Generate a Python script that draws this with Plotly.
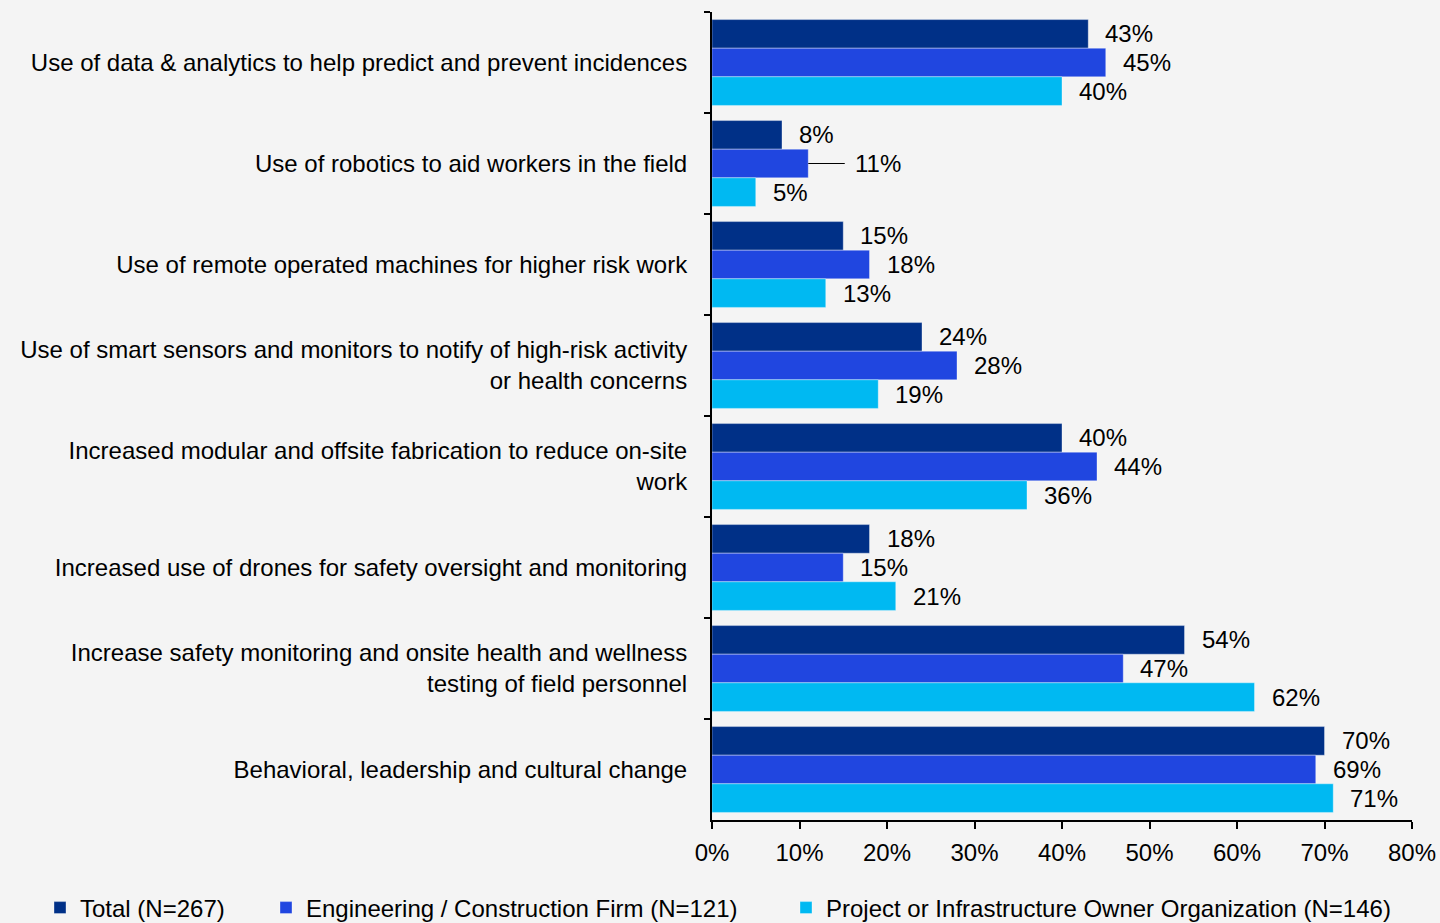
import plotly.graph_objects as go

categories = [
    "Use of data & analytics to help predict and prevent incidences",
    "Use of robotics to aid workers in the field",
    "Use of remote operated machines for higher risk work",
    "Use of smart sensors and monitors to notify of high-risk activity<br>or health concerns",
    "Increased modular and offsite fabrication to reduce on-site<br>work",
    "Increased use of drones for safety oversight and monitoring",
    "Increase safety monitoring and onsite health and wellness<br>testing of field personnel",
    "Behavioral, leadership and cultural change",
]
series_names = [
    "Total (N=267)",
    "Engineering / Construction Firm (N=121)",
    "Project or Infrastructure Owner Organization (N=146)",
]
total = [0.43, 0.08, 0.15, 0.24, 0.40, 0.18, 0.54, 0.70]
engineering = [0.45, 0.11, 0.18, 0.28, 0.44, 0.15, 0.47, 0.69]
owner = [0.40, 0.05, 0.13, 0.19, 0.36, 0.21, 0.62, 0.71]
x_ticks = [0, 0.1, 0.2, 0.3, 0.4, 0.5, 0.6, 0.7, 0.8]

colors = ["#003087", "#2046e0", "#00b9f2"]
FONT = "Liberation Sans, Arial, sans-serif"
FS = 24

# geometry (pixels)
ML, MR, MT, MB = 712, 28, 12, 103
W, H = 1440, 923
plot_w = W - ML - MR
plot_h = H - MT - MB

fig = go.Figure()
all_values = [total, engineering, owner]
legend_ids = ["legend", "legend2", "legend3"]
for name, vals, col, lg in zip(series_names, all_values, colors, legend_ids):
    fig.add_trace(go.Bar(
        y=categories, x=vals, name=name, orientation="h", legend=lg,
        marker=dict(color=col, line=dict(color="rgba(255,255,255,0.35)", width=1)),
    ))

cat_px = plot_h / len(categories)
bargap = 0.15
bar_px = cat_px * (1 - bargap) / 3
shifts = [bar_px, 0, -bar_px]

# labels that need a leader line: (series index, category index)
leader = {(1, 1)}

annotations = []
for si, vals in enumerate(all_values):
    for ci, v in enumerate(vals):
        txt = f"{round(v*100)}%"
        if (si, ci) in leader:
            annotations.append(dict(
                x=v, y=categories[ci], xref="x", yref="y", text=txt,
                showarrow=True, arrowhead=0, arrowwidth=1, arrowcolor="black",
                ax=70, ay=0, axref="pixel", ayref="pixel", standoff=0, startstandoff=9,
                yshift=shifts[si], font=dict(family=FONT, size=FS, color="black"),
            ))
        else:
            annotations.append(dict(
                x=v, y=categories[ci], xref="x", yref="y", text=txt,
                showarrow=False, xanchor="left", yanchor="middle",
                xshift=15, yshift=shifts[si],
                font=dict(family=FONT, size=FS, color="black"),
            ))

legend_y = -(908 - (MT + plot_h)) / plot_h
legend_left_px = [40, 266, 786]
legends = {}
for lg, lx in zip(legend_ids, legend_left_px):
    legends[lg] = dict(
        orientation="h", x=(lx - ML) / plot_w, xanchor="left",
        y=legend_y, yanchor="middle",
        font=dict(family=FONT, size=FS, color="black"),
        itemwidth=30, bgcolor="rgba(0,0,0,0)",
    )

fig.update_layout(
    width=W, height=H,
    barmode="group", bargap=bargap, bargroupgap=0,
    paper_bgcolor="#f4f4f4", plot_bgcolor="#f4f4f4",
    margin=dict(l=ML, r=MR, t=MT, b=MB, autoexpand=False),
    font=dict(family=FONT, size=FS, color="black"),
    annotations=annotations,
    showlegend=True,
    **legends,
)
fig.update_xaxes(
    range=[0, 0.8], tickvals=x_ticks, tickformat=".0%",
    showgrid=False, zeroline=False,
    showline=True, linecolor="black", linewidth=2,
    ticks="outside", ticklen=7, tickwidth=2, tickcolor="black",
    ticklabelstandoff=3,
    tickfont=dict(family=FONT, size=FS, color="black"),
)
fig.update_yaxes(
    range=[len(categories) - 0.5, -0.5], type="category",
    showgrid=False, zeroline=False,
    showline=True, linecolor="black", linewidth=2,
    ticks="outside", ticklen=6, tickwidth=2, tickcolor="black",
    tickson="boundaries", ticklabelstandoff=18,
    tickfont=dict(family=FONT, size=FS, color="black"),
)

fig.write_html(
    "out.html",
    config={"displayModeBar": False},
    post_script="document.body.style.margin='0';document.body.style.background='#f4f4f4';",
)
